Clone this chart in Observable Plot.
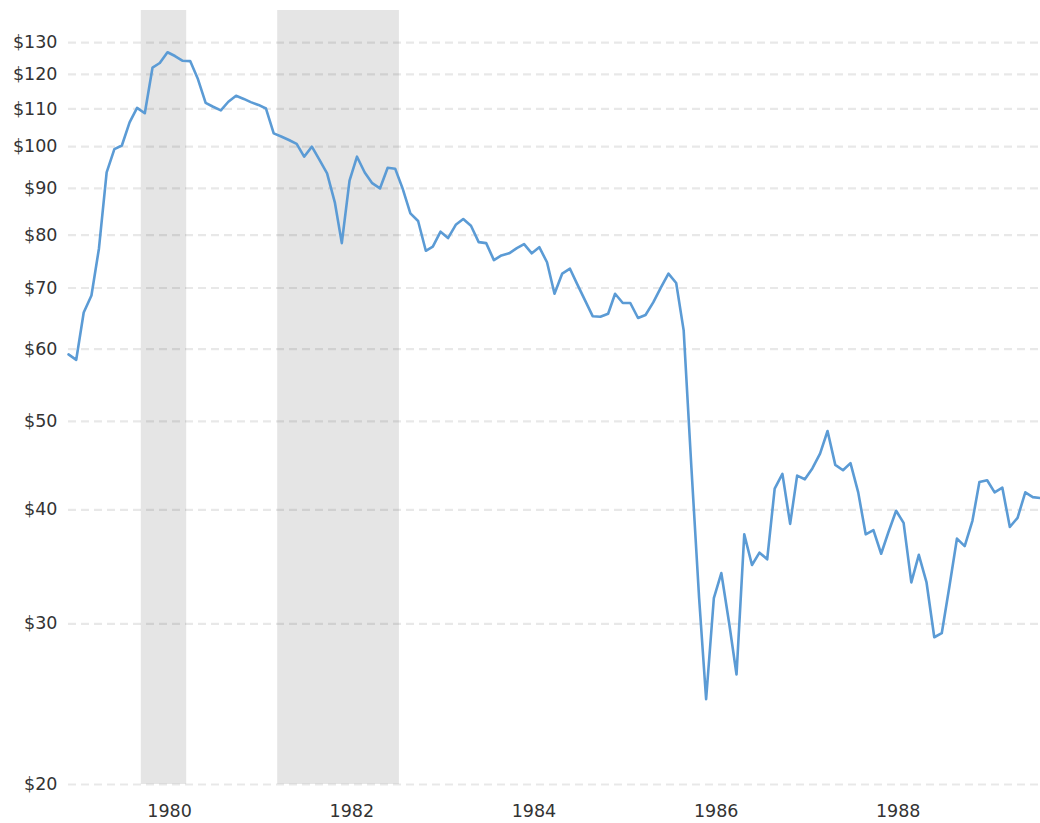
<!DOCTYPE html>
<html>
<head>
<meta charset="utf-8">
<script src="https://cdn.jsdelivr.net/npm/d3@7"></script>
<script src="https://cdn.jsdelivr.net/npm/@observablehq/plot@0.6"></script>
<style>
  html, body { margin: 0; padding: 0; background: #fff; }
  #chart svg { display: block; }
</style>
</head>
<body>
<div id="chart"></div>
<script>
// Monthly series, first value is March 1979 (plotted mid-month)
const firstMonth = "1979-03-15";
const prices = [
  59.2, 58.4, 65.8, 68.7, 77.3, 93.7, 99.4, 100.3, 106.3, 110.3,            // Mar–Dec 1979
  108.8, 122.1, 123.5, 126.9, 125.7, 124.2, 124.1, 118.6, 111.7, 110.6, 109.6, 112.0, // 1980
  113.7, 112.8, 111.9, 111.1, 110.1, 103.4, 102.6, 101.7, 100.7, 97.5, 100.0, 96.8,   // 1981
  93.5, 86.9, 78.4, 91.8, 97.5, 93.7, 91.2, 90.0, 94.8, 94.6, 89.8, 84.5,             // 1982
  82.9, 76.9, 77.7, 80.7, 79.4, 82.1, 83.3, 81.9, 78.6, 78.4, 75.1, 76.0,             // 1983
  76.4, 77.4, 78.2, 76.4, 77.6, 74.7, 69.0, 72.6, 73.5, 70.6, 67.8, 65.2,             // 1984
  65.1, 65.6, 69.0, 67.4, 67.4, 64.9, 65.4, 67.5, 70.1, 72.6, 70.9, 62.9,             // 1985
  44.5, 32.0, 24.8, 32.0, 34.1, 30.1, 26.4, 37.6, 34.8, 35.9, 35.3, 42.2,             // 1986
  43.8, 38.6, 43.6, 43.2, 44.4, 46.1, 48.8, 44.8, 44.2, 45.0, 41.8, 37.6,             // 1987
  38.0, 35.8, 37.8, 39.9, 38.7, 33.3, 35.7, 33.3, 29.0, 29.3, 33.0, 37.2,             // 1988
  36.5, 38.9, 42.9, 43.1, 41.8, 42.3, 38.3, 39.2, 41.8, 41.3, 41.2                    // 1989
];

const recessionStarts = ["1980-01-01", "1981-07-01"];
const recessionEnds   = ["1980-07-01", "1982-11-01"];

const yTicks = [20, 30, 40, 50, 60, 70, 80, 90, 100, 110, 120, 130];
const yMax = 141;
const xTickYears = [1980, 1982, 1984, 1986, 1988];

// Build tables
const start = new Date(firstMonth + "T00:00:00Z");
const series = prices.map((p, i) => ({
  date: new Date(Date.UTC(start.getUTCFullYear(), start.getUTCMonth() + i, 15)),
  price: p
}));
const recessions = recessionStarts.map((s, i) => ({
  start: new Date(s + "T00:00:00Z"),
  end: new Date(recessionEnds[i] + "T00:00:00Z")
}));
const xTicks = xTickYears.map(y => new Date(Date.UTC(y, 0, 1)));

const chart = Plot.plot({
  width: 1040,
  height: 823,
  marginLeft: 68,
  marginRight: 0,
  marginTop: 10,
  marginBottom: 39,
  style: {
    fontFamily: "'DejaVu Sans', Verdana, sans-serif",
    fontSize: "17.5px",
    color: "#333",
    background: "#fff",
    overflow: "visible"
  },
  x: {
    type: "utc",
    domain: [series[0].date, series[series.length - 1].date],
    axis: null
  },
  y: {
    type: "log",
    domain: [20, yMax],
    ticks: yTicks,
    tickFormat: d => "$" + d,
    tickSize: 0,
    tickPadding: 11,
    label: null
  },
  marks: [
    Plot.rect(recessions, { x1: "start", x2: "end", fill: "#e5e5e5" }),
    Plot.ruleY(yTicks, { stroke: "#000", strokeOpacity: 0.09, strokeWidth: 2.2, strokeDasharray: "8,5" }),
    Plot.line(series, { x: "date", y: "price", stroke: "#5b9bd5", strokeWidth: 2.6 }),
    Plot.text(xTicks, {
      x: d => d,
      text: d => String(d.getUTCFullYear()),
      frameAnchor: "bottom",
      lineAnchor: "middle",
      textAnchor: "start",
      dx: 6,
      dy: 27,
      fill: "#333",
      fontSize: 17.5
    })
  ]
});

document.getElementById("chart").appendChild(chart);
</script>
</body>
</html>
